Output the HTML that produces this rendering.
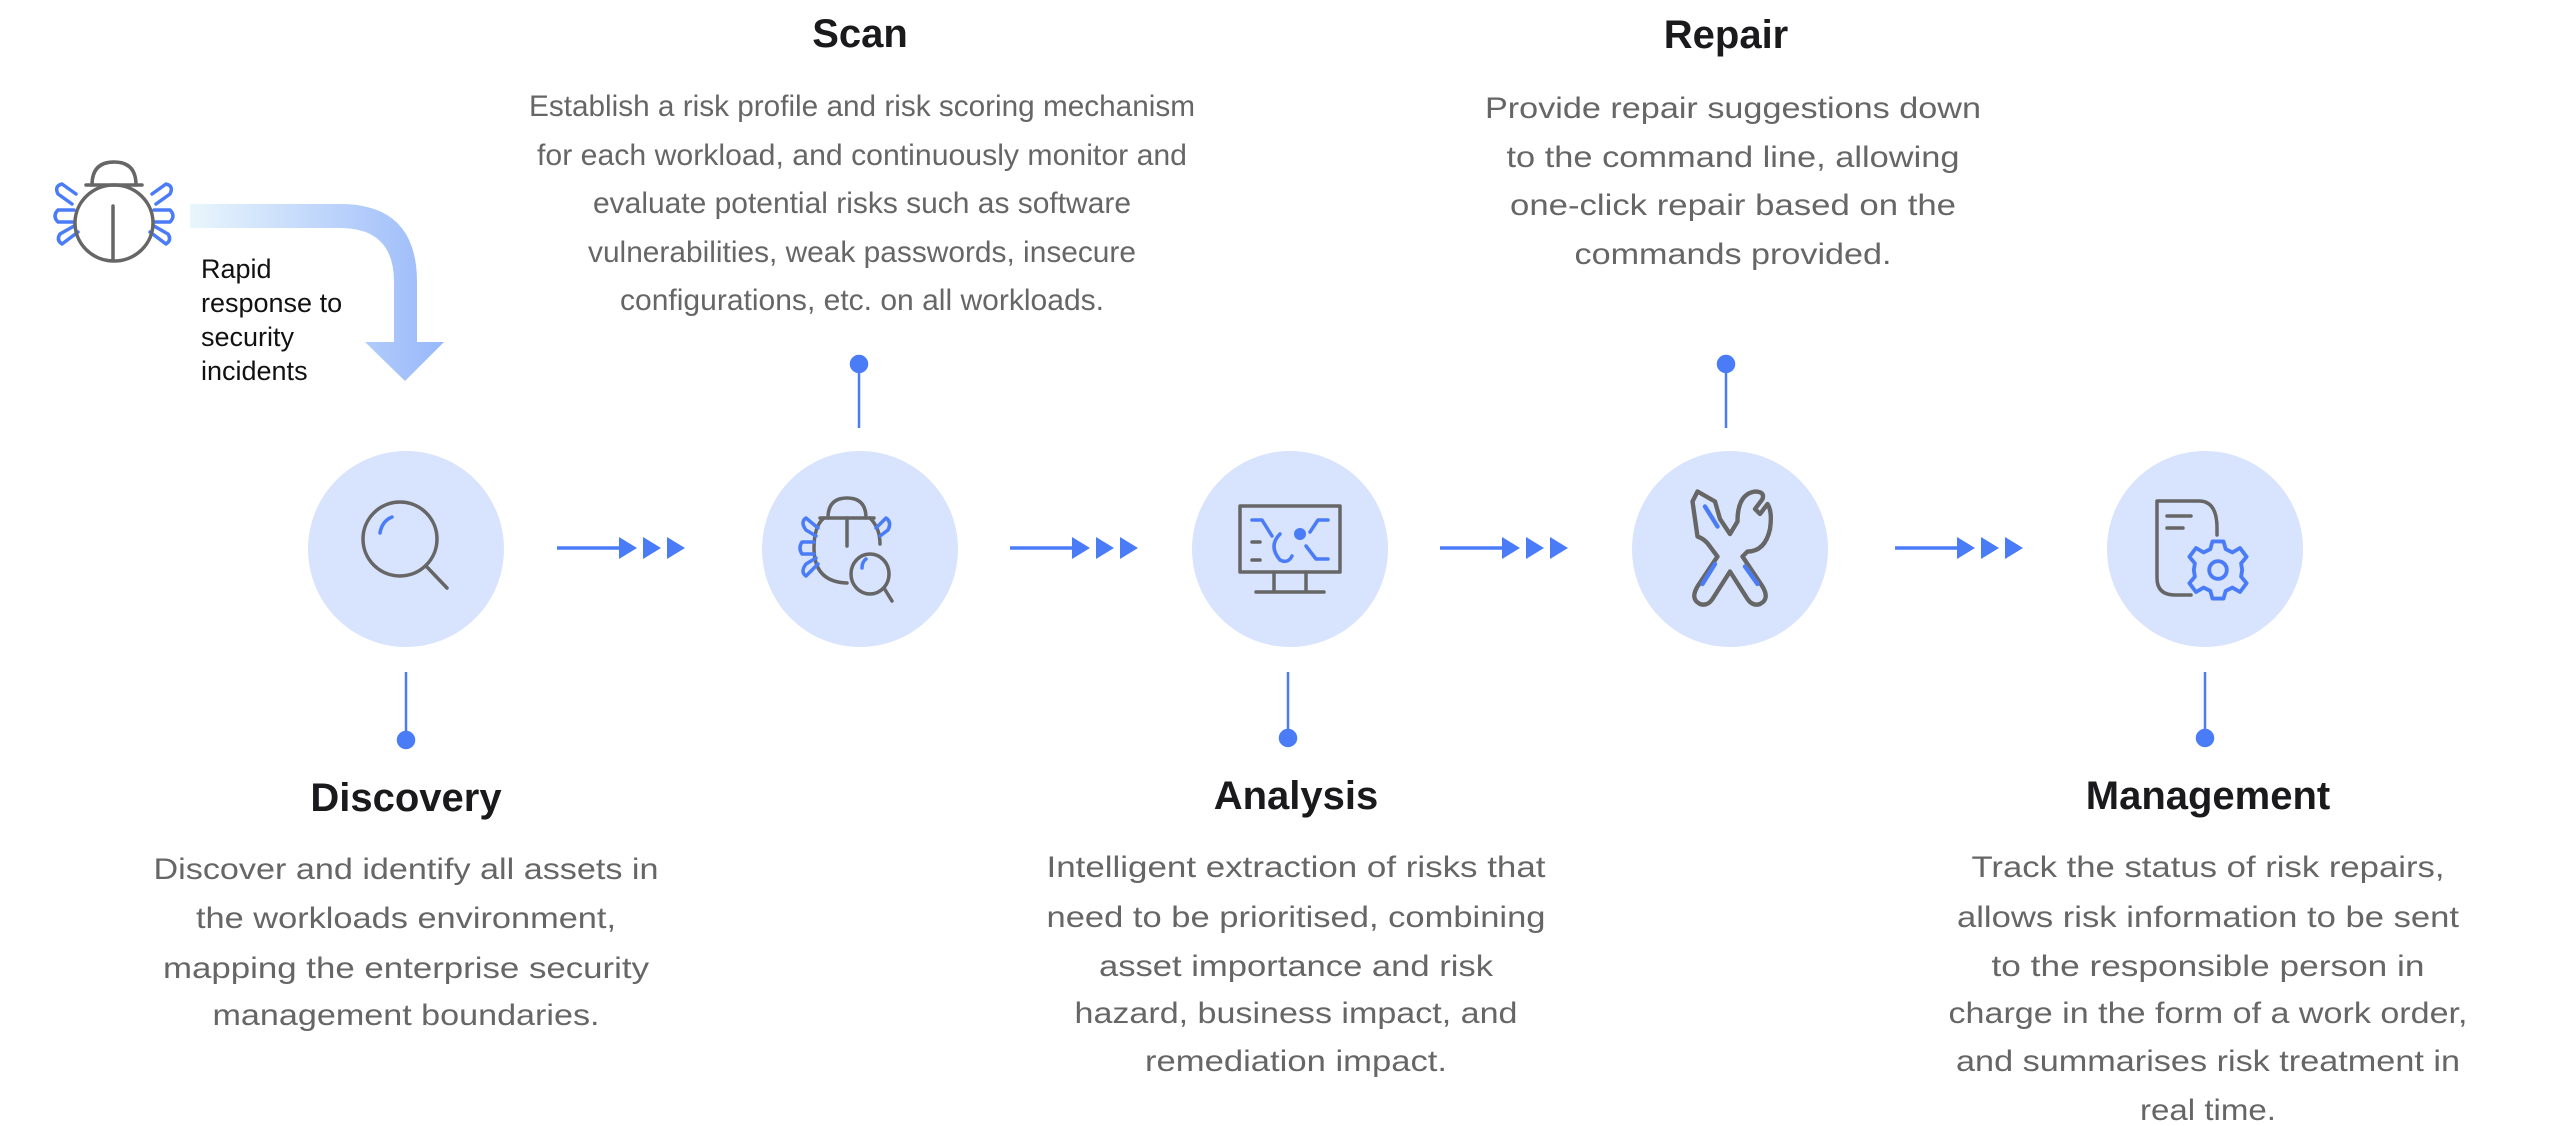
<!DOCTYPE html>
<html><head><meta charset="utf-8"><style>
html,body{margin:0;padding:0;background:#fff;}
svg{display:block;}
.t{font-family:"Liberation Sans",sans-serif;font-weight:bold;font-size:40px;fill:#1a1a1c;text-anchor:middle;}
.b{font-family:"Liberation Sans",sans-serif;font-size:30px;fill:#666;text-anchor:middle;}
.g{fill:none;stroke:#666;stroke-width:3.5;stroke-linecap:round;stroke-linejoin:round;}
.bl{fill:none;stroke:#4a7cf7;stroke-width:3.5;stroke-linecap:round;stroke-linejoin:round;}
</style></head><body>
<svg width="2560" height="1126" viewBox="0 0 2560 1126" xmlns="http://www.w3.org/2000/svg">
<defs>
<linearGradient id="gr" x1="190" y1="0" x2="444" y2="0" gradientUnits="userSpaceOnUse">
<stop offset="0" stop-color="#e9f6fc"/><stop offset="1" stop-color="#98b8fa"/>
</linearGradient>
<g id="arr">
<line x1="0" y1="0" x2="66" y2="0" stroke="#4a7cf7" stroke-width="3.5"/>
<polygon points="62,-11 80,0 62,11" fill="#4a7cf7"/>
<polygon points="86,-11 104,0 86,11" fill="#4a7cf7"/>
<polygon points="110,-11 128,0 110,11" fill="#4a7cf7"/>
</g>
</defs>

<!-- top-left bug -->
<g transform="translate(114,212)">
<path class="bl" d="M-38,-18 L-52,-28 Q-60,-26 -56,-18 L-42,-8"/>
<path class="bl" d="M38,-18 L52,-28 Q60,-26 56,-18 L42,-8"/>
<path class="bl" d="M-40,-2 L-56,-2 Q-62,4 -56,10 L-40,10"/>
<path class="bl" d="M40,-2 L56,-2 Q62,4 56,10 L40,10"/>
<path class="bl" d="M-36,20 L-52,32 Q-58,28 -54,22 L-40,14"/>
<path class="bl" d="M36,20 L52,32 Q58,28 54,22 L40,14"/>
<path class="g" d="M-22,-27 Q-22,-50 0,-50 Q22,-50 22,-27"/>
<line class="g" x1="-28" y1="-27" x2="28" y2="-27"/>
<ellipse class="g" cx="0" cy="11" rx="39" ry="38" fill="#fff"/>
<line class="g" x1="-1" y1="-6" x2="-1" y2="48"/>
</g>
<!-- gradient curved arrow -->
<path d="M190,204 L340,204 Q417,204 417,282 L417,342 L444,342 L405,381 L365,342 L394,342 L394,282 Q394,228 340,228 L190,228 Z" fill="url(#gr)"/>
<g font-family="Liberation Sans, sans-serif" font-size="27" fill="#111">
<text x="201" y="278">Rapid</text>
<text x="201" y="312">response to</text>
<text x="201" y="346">security</text>
<text x="201" y="380">incidents</text>
</g>

<!-- circles -->
<g fill="#d8e4fd">
<circle cx="406" cy="549" r="98"/>
<circle cx="860" cy="549" r="98"/>
<circle cx="1290" cy="549" r="98"/>
<circle cx="1730" cy="549" r="98"/>
<circle cx="2205" cy="549" r="98"/>
</g>

<!-- arrows -->
<use href="#arr" x="557" y="548"/>
<use href="#arr" x="1010" y="548"/>
<use href="#arr" x="1440" y="548"/>
<use href="#arr" x="1895" y="548"/>

<!-- pins -->
<g stroke="#4a7cf7" stroke-width="2.5" fill="#4a7cf7">
<line x1="859" y1="364" x2="859" y2="428"/><circle cx="859" cy="364" r="8"/>
<line x1="1726" y1="364" x2="1726" y2="428"/><circle cx="1726" cy="364" r="8"/>
<line x1="406" y1="672" x2="406" y2="740"/><circle cx="406" cy="740" r="8"/>
<line x1="1288" y1="672" x2="1288" y2="738"/><circle cx="1288" cy="738" r="8"/>
<line x1="2205" y1="672" x2="2205" y2="738"/><circle cx="2205" cy="738" r="8"/>
</g>

<!-- Discovery icon -->
<g transform="translate(400,539)">
<circle class="g" cx="0" cy="0" r="37"/>
<path class="bl" d="M-20,-6 Q-18,-18 -8,-22"/>
<line class="g" x1="26" y1="27" x2="47" y2="49"/>
</g>

<!-- Scan icon -->
<g transform="translate(858,548)">
<path class="g" d="M-30,-30 Q-30,-50 -11,-50 Q8,-50 8,-30"/>
<line class="g" x1="-38" y1="-30" x2="16" y2="-30"/>
<path class="g" d="M-11,35 Q-44,34 -44,0 Q-44,-22 -34,-30 M12,-30 Q22,-20 22,-4"/>
<line class="g" x1="-11" y1="-30" x2="-11" y2="-2"/>
<path class="bl" d="M-40,-20 L-52,-30 Q-58,-26 -52,-18 L-42,-12"/>
<path class="bl" d="M18,-20 L28,-30 Q34,-26 30,-18 L22,-12"/>
<path class="bl" d="M-44,-6 L-56,-6 Q-60,0 -56,6 L-44,6"/>
<path class="bl" d="M-40,16 L-52,28 Q-58,24 -52,16 L-42,10"/>
<ellipse class="g" cx="12" cy="26" rx="19" ry="20" fill="#d8e4fd"/>
<path class="bl" d="M4,20 Q4,14 8,11"/>
<line class="g" x1="26" y1="40" x2="34" y2="53"/>
</g>

<!-- Analysis icon -->
<g transform="translate(1290,548)">
<rect class="g" x="-50" y="-42" width="100" height="66"/>
<line class="g" x1="-16" y1="24" x2="-16" y2="42"/>
<line class="g" x1="16" y1="24" x2="16" y2="42"/>
<line class="g" x1="-34" y1="44" x2="34" y2="44"/>
<path class="bl" d="M-38,-28 L-28,-28 L-18,-12 M38,-28 L28,-28 L20,-16 M38,11 L26,11 L16,-2"/>
<path class="bl" d="M-10,-14 Q-22,-2 -10,12 Q-2,16 2,8"/>
<circle cx="10" cy="-14" r="6" fill="#4a7cf7"/>
<line class="g" x1="-38" y1="-6" x2="-30" y2="-6"/>
<line class="g" x1="-38" y1="12" x2="-30" y2="12"/>
</g>

<!-- Repair icon -->
<g transform="translate(1730,544) scale(1.25)">
<path class="g" stroke-width="2.8" d="M-26,-42 L-12,-34 L-8,-20 L0,-8 L6,-18 Q6,-40 20,-42 Q28,-42 26,-36 L20,-28 L24,-24 L30,-32 Q34,-26 32,-12 Q28,6 14,6 L10,10 L26,34 Q32,44 24,48 Q18,50 14,44 L0,22 L-14,44 Q-18,50 -24,48 Q-32,44 -26,34 L-10,10 L-16,2 Q-20,-4 -26,-6 L-30,-34 Z"/>
<line class="bl" stroke-width="2.8" x1="-20" y1="-30" x2="-10" y2="-14"/>
<line class="bl" stroke-width="2.8" x1="-12" y1="16" x2="-22" y2="32"/>
<line class="bl" stroke-width="2.8" x1="12" y1="18" x2="22" y2="32"/>
</g>

<!-- Management icon -->
<g transform="translate(2205,548)">
<path class="g" d="M-48,-47 L-6,-47 Q12,-47 12,-20 L12,-13 M-48,-47 L-48,30 Q-48,47 -30,47 L-14,47"/>
<line class="g" x1="-38" y1="-32" x2="-14" y2="-32"/>
<line class="g" x1="-38" y1="-20" x2="-22" y2="-20"/>
<g transform="translate(13,22) scale(1.1)">
<path class="bl" d="M-5,-26 L5,-26 L7,-19 L13,-16 L20,-20 L26,-12 L21,-6 L22,0 L21,6 L26,12 L20,20 L13,16 L7,19 L5,26 L-5,26 L-7,19 L-13,16 L-20,20 L-26,12 L-21,6 L-22,0 L-21,-6 L-26,-12 L-20,-20 L-13,-16 L-7,-19 Z"/>
<circle class="bl" cx="0" cy="0" r="8"/>
</g>
</g>

<!-- Titles -->
<text class="t" x="860" y="47">Scan</text>
<text class="t" x="1726" y="48">Repair</text>
<text class="t" x="406" y="811">Discovery</text>
<text class="t" x="1296" y="809">Analysis</text>
<text class="t" x="2208" y="809">Management</text>

<!-- Scan body -->
<text class="b" x="862" y="116" textLength="666" lengthAdjust="spacingAndGlyphs">Establish a risk profile and risk scoring mechanism</text>
<text class="b" x="862" y="165" textLength="650" lengthAdjust="spacingAndGlyphs">for each workload, and continuously monitor and</text>
<text class="b" x="862" y="213" textLength="538" lengthAdjust="spacingAndGlyphs">evaluate potential risks such as software</text>
<text class="b" x="862" y="262" textLength="548" lengthAdjust="spacingAndGlyphs">vulnerabilities, weak passwords, insecure</text>
<text class="b" x="862" y="310" textLength="484" lengthAdjust="spacingAndGlyphs">configurations, etc. on all workloads.</text>

<!-- Repair body -->
<text class="b" x="1733" y="118" textLength="496" lengthAdjust="spacingAndGlyphs">Provide repair suggestions down</text>
<text class="b" x="1733" y="167" textLength="453" lengthAdjust="spacingAndGlyphs">to the command line, allowing</text>
<text class="b" x="1733" y="215" textLength="446" lengthAdjust="spacingAndGlyphs">one-click repair based on the</text>
<text class="b" x="1733" y="264" textLength="317" lengthAdjust="spacingAndGlyphs">commands provided.</text>

<!-- Discovery body -->
<text class="b" x="406" y="879" textLength="505" lengthAdjust="spacingAndGlyphs">Discover and identify all assets in</text>
<text class="b" x="406" y="928" textLength="420" lengthAdjust="spacingAndGlyphs">the workloads environment,</text>
<text class="b" x="406" y="978" textLength="486" lengthAdjust="spacingAndGlyphs">mapping the enterprise security</text>
<text class="b" x="406" y="1025" textLength="387" lengthAdjust="spacingAndGlyphs">management boundaries.</text>

<!-- Analysis body -->
<text class="b" x="1296" y="877" textLength="499" lengthAdjust="spacingAndGlyphs">Intelligent extraction of risks that</text>
<text class="b" x="1296" y="927" textLength="499" lengthAdjust="spacingAndGlyphs">need to be prioritised, combining</text>
<text class="b" x="1296" y="976" textLength="394" lengthAdjust="spacingAndGlyphs">asset importance and risk</text>
<text class="b" x="1296" y="1023" textLength="443" lengthAdjust="spacingAndGlyphs">hazard, business impact, and</text>
<text class="b" x="1296" y="1071" textLength="302" lengthAdjust="spacingAndGlyphs">remediation impact.</text>

<!-- Management body -->
<text class="b" x="2208" y="877" textLength="473" lengthAdjust="spacingAndGlyphs">Track the status of risk repairs,</text>
<text class="b" x="2208" y="927" textLength="502" lengthAdjust="spacingAndGlyphs">allows risk information to be sent</text>
<text class="b" x="2208" y="976" textLength="433" lengthAdjust="spacingAndGlyphs">to the responsible person in</text>
<text class="b" x="2208" y="1023" textLength="519" lengthAdjust="spacingAndGlyphs">charge in the form of a work order,</text>
<text class="b" x="2208" y="1071" textLength="504" lengthAdjust="spacingAndGlyphs">and summarises risk treatment in</text>
<text class="b" x="2208" y="1120" textLength="136" lengthAdjust="spacingAndGlyphs">real time.</text>
</svg>
</body></html>
